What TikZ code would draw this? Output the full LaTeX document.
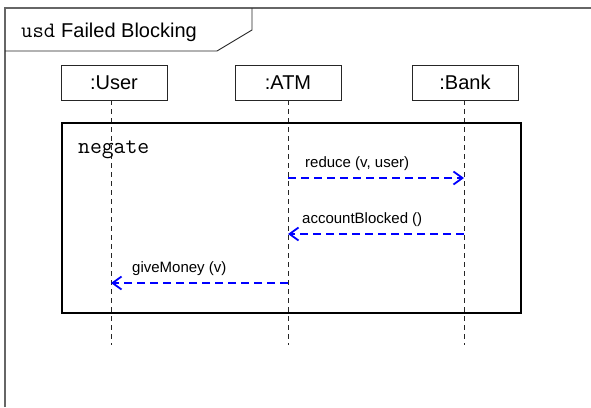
\documentclass[tikz,border=0pt]{standalone}
\usepackage{fontspec}
\setmainfont{Liberation Sans}
\setmonofont{Latin Modern Mono}
\usetikzlibrary{arrows.meta}
\definecolor{msgblue}{RGB}{0,0,255}
\tikzset{
  frameline/.style={draw=black!60, line width=1.4pt},
  tabline/.style={draw=black!85, line width=0.9pt},
  headbox/.style={draw=black!85, line width=0.9pt, minimum width=106pt, minimum height=35pt,
                  inner sep=0pt, font=\fontsize{20}{24}\selectfont},
  lifeline/.style={draw=black!85, line width=0.9pt, dash pattern=on 5pt off 4pt},
  fragment/.style={draw=black, line width=2.2pt},
  msg/.style={draw=msgblue, line width=1.8pt, dash pattern=on 8pt off 5pt,
              -{Straight Barb[length=9pt,width=13pt,line width=1.8pt]}},
  msglabel/.style={anchor=west, inner sep=0pt, font=\fontsize{15}{18}\selectfont},
}
\begin{document}
\begin{tikzpicture}[x=1pt,y=-1pt]
\useasboundingbox (0,0) rectangle (591,407);

% diagram frame (open to the right and bottom)
\draw[frameline] (5,407) -- (5,8) -- (591,8);
% name tab
\draw[tabline] (5,51) -- (217,51) -- (252,30) -- (252,8);
\node[anchor=base west, inner sep=0pt] (title) at (21,37)
  {{\ttfamily\fontsize{22}{24}\selectfont usd}\hspace{6pt}\fontsize{20}{24}\selectfont Failed Blocking};

% lifeline heads
\node[headbox] (user) at (114,82.5) {:User};
\node[headbox] (atm)  at (288,82.5) {:ATM};
\node[headbox] (bank) at (465,82.5) {:Bank};

% lifeline ends
\coordinate (userEnd) at (111,345);
\coordinate (atmEnd)  at (288,345);
\coordinate (bankEnd) at (464,345);
\draw[lifeline] (111,100) -- (userEnd);
\draw[lifeline] (atm.south) -- (atmEnd);
\draw[lifeline] (464,100) -- (bankEnd);

% negate combined fragment
\node[fragment, anchor=north west, minimum width=459pt, minimum height=190pt, inner sep=0pt] (neg) at (61,122) {};
\node[anchor=base west, inner sep=0pt, font=\ttfamily\fontsize{23}{26}\selectfont] (negLabel) at (78,153) {negate};

% message anchor points on the lifelines
\coordinate (atmA)  at (288,178);
\coordinate (bankA) at (464,178);
\coordinate (bankB) at (464,234);
\coordinate (atmB)  at (288,234);
\coordinate (atmC)  at (288,283);
\coordinate (userC) at (111,283);

\draw[msg] (atmA) -- (bankA);
\node[msglabel] (m1) at (305,164) {reduce (v, user)};
\draw[msg] (bankB) -- (atmB);
\node[msglabel] (m2) at (302,220) {accountBlocked ()};
\draw[msg] (atmC) -- (userC);
\node[msglabel] (m3) at (132,269) {giveMoney (v)};
\end{tikzpicture}
\end{document}
